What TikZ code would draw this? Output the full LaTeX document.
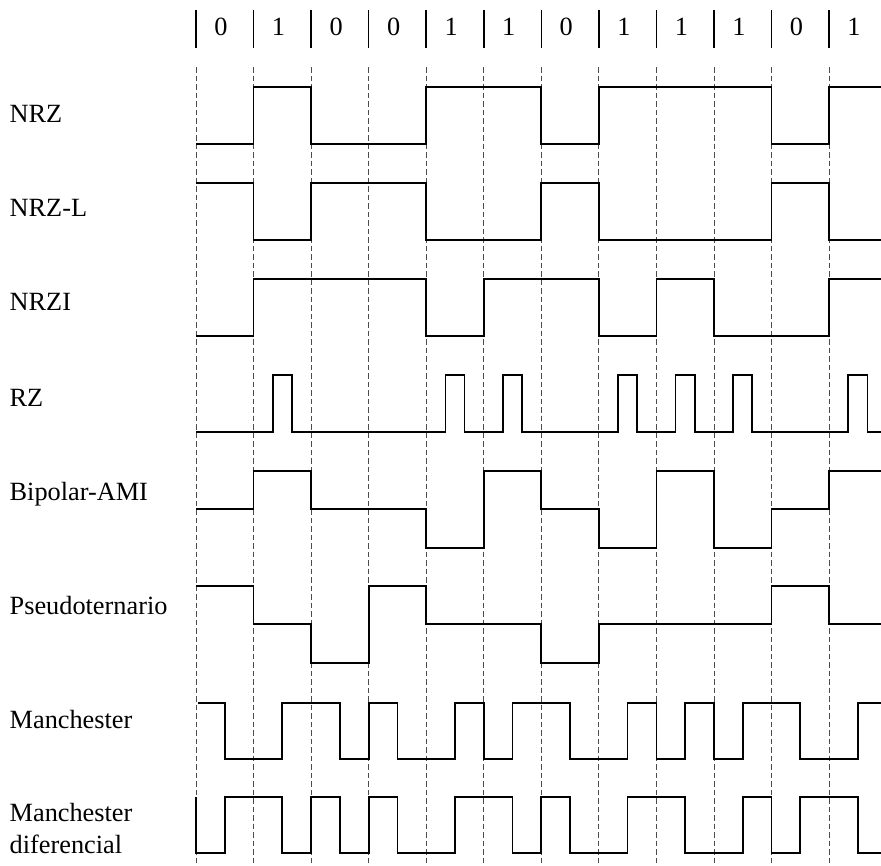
\documentclass[tikz,border=0pt]{standalone}
\usepackage{fontspec}
\setmainfont{Liberation Serif}
\begin{document}
\begin{tikzpicture}[x=1pt,y=-1pt,
  lbl/.style={anchor=base west,inner sep=0pt,font=\fontsize{26.3}{31.6}\selectfont,align=left},
  dig/.style={anchor=base,inner sep=0pt,font=\fontsize{26.3}{31.6}\selectfont},
  bar/.style={line width=1.6pt},
  guide/.style={line width=0.9pt,black!70,dash pattern=on 5.5pt off 3pt},
  sig/.style={line width=1.7pt,line join=miter}]
\useasboundingbox (0,0) rectangle (881,865);
% header bars and bits
\foreach \k/\b in {0/0,1/1,2/0,3/0,4/1,5/1,6/0,7/1,8/1,9/1,10/0,11/1}{
  \draw[bar] ({196+57.55*\k},10) -- ({196+57.55*\k},48);
  \node[dig] (bit\k) at ({221+57.55*\k},35) {\b};
  \draw[guide] ({196+57.55*\k},67) -- ({196+57.55*\k},865);
}
% labels
\node[lbl] (lnrz) at (9.5,122.5) {NRZ};
\node[lbl] (lnrzl) at (9.5,216.7) {NRZ-L};
\node[lbl] (lnrzi) at (9.5,310.7) {NRZI};
\node[lbl] (lrz) at (9.5,406.5) {RZ};
\node[lbl] (lami) at (9.5,500) {Bipolar-AMI};
\node[lbl] (lpseudo) at (9.5,614.3) {Pseudoternario};
\node[lbl] (lman) at (9.5,728.3) {Manchester};
\node[lbl] (lman1) at (9.5,821.7) {Manchester};
\node[lbl] (lman2) at (9.5,853.3) {diferencial};
% NRZ
\draw[sig] (196,144) -| (253.55,87) -| (311.1,144) -| (426.2,87) -| (541.3,144) -| (598.85,87) -| (771.5,144) -| (829.05,87) -- (881,87);
% NRZ-L
\draw[sig] (196,182.7) -| (253.55,240.3) -| (311.1,182.7) -| (426.2,240.3) -| (541.3,182.7) -| (598.85,240.3) -| (771.5,182.7) -| (829.05,240.3) -- (881,240.3);
% NRZI
\draw[sig] (196,336) -| (253.55,279) -| (426.2,336) -| (483.75,279) -| (598.85,336) -| (656.4,279) -| (713.95,336) -| (829.05,279) -- (881,279);
% RZ
\draw[sig] (196,432) -| (272.73,375) -| (291.92,432) -| (445.38,375) -| (464.57,432) -| (502.93,375) -| (522.12,432) -| (618.03,375) -| (637.22,432) -| (675.58,375) -| (694.77,432) -| (733.13,375) -| (752.32,432) -| (848.23,375) -| (867.42,432) -- (881,432);
% Bipolar-AMI
\draw[sig] (196,509.3) -| (253.55,471) -| (311.1,509.3) -| (426.2,548) -| (483.75,471) -| (541.3,509.3) -| (598.85,548) -| (656.4,471) -| (713.95,548) -| (771.5,509.3) -| (829.05,471) -- (881,471);
% Pseudoternario
\draw[sig] (196,586.3) -| (253.55,624.3) -| (311.1,662.7) -| (368.65,586.3) -| (426.2,624.3) -| (541.3,662.7) -| (598.85,624.3) -| (771.5,586.3) -| (829.05,624.3) -- (881,624.3);
% Manchester
\draw[sig] (197.5,702.7) -| (224.78,759.3) -| (282.33,702.7) -| (339.88,759.3) -| (368.65,702.7) -| (397.43,759.3) -| (454.98,702.7) -| (483.75,759.3) -| (512.53,702.7) -| (570.08,759.3) -| (627.63,702.7) -| (656.4,759.3) -| (685.18,702.7) -| (713.95,759.3) -| (742.73,702.7) -| (800.28,759.3) -| (857.83,702.7) -- (881,702.7);
% Manchester diferencial
\draw[sig] (196,797.3) -- (196,853.3) -| (224.78,797.3) -| (282.33,853.3) -| (311.1,797.3) -| (339.88,853.3) -| (368.65,797.3) -| (397.43,853.3) -| (454.98,797.3) -| (512.53,853.3) -| (541.3,797.3) -| (570.08,853.3) -| (627.63,797.3) -| (685.18,853.3) -| (742.73,797.3) -| (771.5,853.3) -| (800.28,797.3) -| (857.83,853.3) -- (881,853.3);
\end{tikzpicture}
\end{document}
